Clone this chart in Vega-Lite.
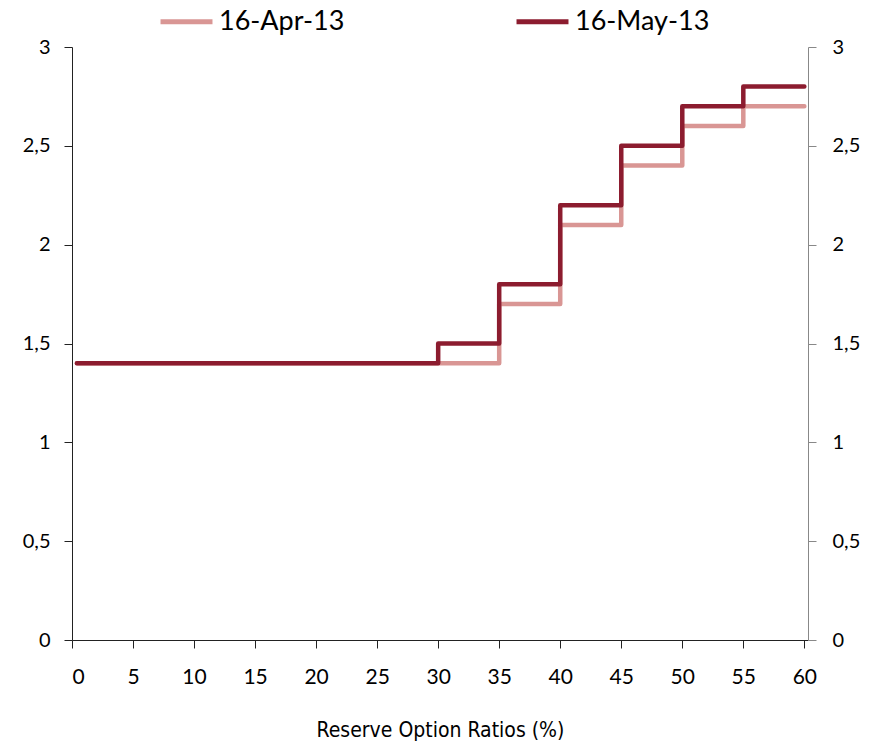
{
  "$schema": "https://vega.github.io/schema/vega-lite/v6.json",
  "width": 736,
  "height": 593,
  "autosize": {"type": "none"},
  "padding": {"left": 72, "top": 47, "right": 62, "bottom": 101},
  "background": "white",
  "config": {
    "view": {"stroke": null},
    "font": "Lato"
  },
  "data": {
    "values": [
      {"x": 0.4, "y": 1.4, "series": "16-Apr-13"},
      {"x": 35, "y": 1.7, "series": "16-Apr-13"},
      {"x": 40, "y": 2.1, "series": "16-Apr-13"},
      {"x": 45, "y": 2.4, "series": "16-Apr-13"},
      {"x": 50, "y": 2.6, "series": "16-Apr-13"},
      {"x": 55, "y": 2.7, "series": "16-Apr-13"},
      {"x": 60, "y": 2.7, "series": "16-Apr-13"},
      {"x": 0.4, "y": 1.4, "series": "16-May-13"},
      {"x": 30, "y": 1.5, "series": "16-May-13"},
      {"x": 35, "y": 1.8, "series": "16-May-13"},
      {"x": 40, "y": 2.2, "series": "16-May-13"},
      {"x": 45, "y": 2.5, "series": "16-May-13"},
      {"x": 50, "y": 2.7, "series": "16-May-13"},
      {"x": 55, "y": 2.8, "series": "16-May-13"},
      {"x": 60, "y": 2.8, "series": "16-May-13"}
    ]
  },
  "encoding": {
    "x": {
      "field": "x", "type": "quantitative",
      "scale": {"domain": [0, 60.3], "nice": false, "zero": false},
      "axis": {
        "title": "Reserve Option Ratios (%)",
        "values": [0,5,10,15,20,25,30,35,40,45,50,55,60],
        "grid": false,
        "domainColor": "#222222",
        "tickColor": "#222222",
        "tickSize": 8,
        "labelFontSize": 21,
        "labelColor": "#000000",
        "labelPadding": 18,
        "labelFont": "Lato",
        "titleFontSize": 21,
        "titleFontWeight": "normal",
        "titleColor": "#000000",
        "titlePadding": 32,
        "titleFont": "DejaVu Sans Condensed"
      }
    },
    "y": {
      "field": "y", "type": "quantitative",
      "scale": {"domain": [0, 3], "nice": false}
    },
    "color": {
      "field": "series", "type": "nominal",
      "scale": {"domain": ["16-Apr-13", "16-May-13"], "range": ["#D99694", "#8C1C2F"]},
      "legend": {
        "title": null,
        "orient": "none",
        "legendX": 86,
        "legendY": -54,
        "direction": "horizontal",
        "symbolType": "stroke",
        "symbolSize": 2700,
        "symbolStrokeWidth": 5,
        "labelFontSize": 27,
        "labelColor": "#000000",
        "labelFont": "Lato",
        "columnPadding": 161,
        "labelOffset": 4
      }
    }
  },
  "layer": [
    {
      "mark": {"type": "line", "interpolate": "step-after", "strokeWidth": 4.5, "strokeJoin": "round", "strokeCap": "round"},
      "encoding": {
        "y": {
          "field": "y", "type": "quantitative",
          "axis": {
            "orient": "left",
            "title": null,
            "values": [0, 0.5, 1, 1.5, 2, 2.5, 3],
            "format": "~g",
            "labelExpr": "replace(datum.label, '.', ',')",
            "grid": false,
            "domainColor": "#222222",
            "tickColor": "#222222",
            "tickSize": 8,
            "labelFontSize": 20,
            "labelColor": "#000000",
            "labelPadding": 14,
            "labelFont": "Lato"
          }
        },
        "order": {"field": "x"}
      }
    },
    {
      "mark": {"type": "line", "interpolate": "step-after", "strokeOpacity": 0},
      "encoding": {
        "y": {
          "field": "y", "type": "quantitative",
          "axis": {
            "orient": "right",
            "title": null,
            "values": [0, 0.5, 1, 1.5, 2, 2.5, 3],
            "format": "~g",
            "labelExpr": "replace(datum.label, '.', ',')",
            "grid": false,
            "domainColor": "#888888",
            "tickColor": "#888888",
            "tickSize": 8,
            "labelFontSize": 20,
            "labelColor": "#000000",
            "labelPadding": 16,
            "labelFont": "Lato"
          }
        },
        "order": {"field": "x"}
      }
    }
  ],
  "resolve": {"axis": {"y": "independent"}}
}
